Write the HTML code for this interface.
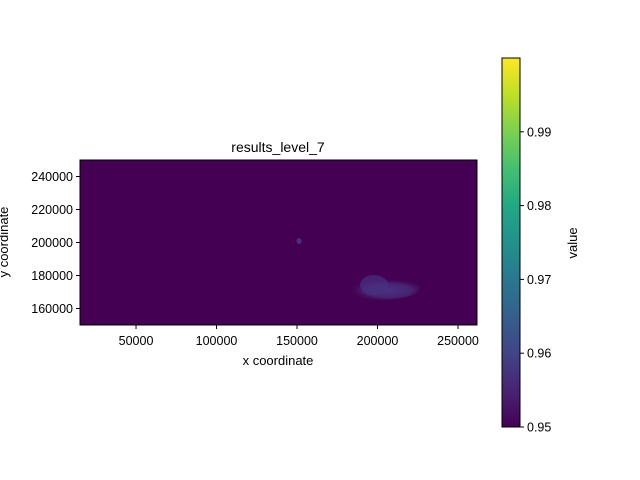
<!DOCTYPE html>
<html><head><meta charset="utf-8"><style>
body{margin:0;background:#fff;}
svg{display:block;font-family:"Liberation Sans","DejaVu Sans",sans-serif;}
</style></head><body>
<svg width="640" height="480">
<defs>
<linearGradient id="vir" x1="0" y1="1" x2="0" y2="0">
<stop offset="0" stop-color="#440154"/><stop offset="0.1" stop-color="#482475"/><stop offset="0.2" stop-color="#414487"/><stop offset="0.3" stop-color="#355f8d"/><stop offset="0.4" stop-color="#2a788e"/><stop offset="0.5" stop-color="#21918c"/><stop offset="0.6" stop-color="#22a884"/><stop offset="0.7" stop-color="#44bf70"/><stop offset="0.8" stop-color="#7ad151"/><stop offset="0.9" stop-color="#bddf26"/><stop offset="1" stop-color="#fde725"/>
</linearGradient>
<radialGradient id="blob" cx="0.6" cy="0.6" r="0.5">
<stop offset="0" stop-color="#4a3285"/><stop offset="0.6" stop-color="#462370"/><stop offset="1" stop-color="#440154" stop-opacity="0"/>
</radialGradient>
</defs>
<text x="278" y="152" font-size="14" text-anchor="middle">results_level_7</text>
<g id="plot">
<rect x="80" y="160" width="397" height="165" fill="#440154"/>
<ellipse cx="380" cy="288" rx="40" ry="12" fill="url(#blob)"/>
<ellipse cx="374" cy="285" rx="14" ry="10" fill="#493080" opacity="0.7"/>
<ellipse cx="299" cy="241" rx="2.5" ry="3" fill="#4a2e80"/>
<rect x="80" y="160" width="397" height="165" fill="none" stroke="#000" stroke-width="1"/>
</g>
<g id="xt" font-size="12.5" text-anchor="middle"></g>
<g id="yt" font-size="12.5" text-anchor="end"></g>
<text x="278" y="365" font-size="13" text-anchor="middle">x coordinate</text>
<text transform="translate(8,242) rotate(-90)" font-size="13" text-anchor="middle">y coordinate</text>
<rect x="502" y="58" width="18" height="369" fill="url(#vir)" stroke="#000" stroke-width="1"/>
<g id="ct" font-size="12.5"></g>
<text transform="translate(577,243) rotate(-90)" font-size="13" text-anchor="middle">value</text>
</svg>
<script>
const xTicks=[50000,100000,150000,200000,250000];
const yTicks=[160000,180000,200000,220000,240000];
const cTicks=[0.95,0.96,0.97,0.98,0.99];
const xDomain=[15200,261800], yDomain=[150000,250000], cDomain=[0.95,1.0];
const ns="http://www.w3.org/2000/svg";
const sx=v=>80+(v-xDomain[0])/(xDomain[1]-xDomain[0])*397;
const sy=v=>325-(v-yDomain[0])/(yDomain[1]-yDomain[0])*165;
const sc=v=>427-(v-cDomain[0])/(cDomain[1]-cDomain[0])*369;
function mk(t,a,p){const e=document.createElementNS(ns,t);for(const k in a)e.setAttribute(k,a[k]);p.appendChild(e);return e;}
const xt=document.getElementById('xt'),yt=document.getElementById('yt'),ct=document.getElementById('ct');
xTicks.forEach(v=>{const x=sx(v);
const l=mk('line',{x1:x,x2:x,y1:325,y2:329,stroke:'#000'},xt);


const t=mk('text',{x:x,y:345},xt);t.textContent=v;

});
yTicks.forEach(v=>{const y=sy(v);
const l=mk('line',{x1:76,x2:80,y1:y,y2:y,stroke:'#000'},yt);


const t=mk('text',{x:73,y:y+4.5},yt);t.textContent=v;

});
cTicks.forEach(v=>{const y=sc(v);
const l=mk('line',{x1:520,x2:524,y1:y,y2:y,stroke:'#000'},ct);


const t=mk('text',{x:527,y:y+4.5},ct);t.textContent=v.toFixed(2);

});
</script>
</body></html>
